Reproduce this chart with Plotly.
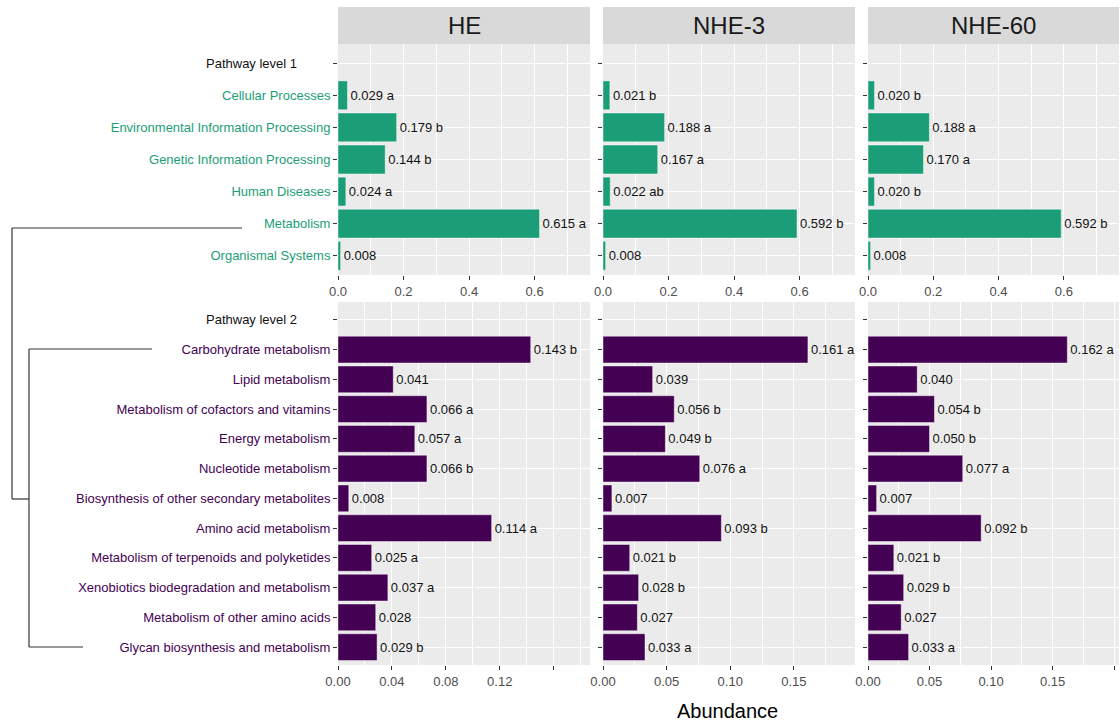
import plotly.graph_objects as go

# ---------------- data ----------------
groups = ["HE", "NHE-3", "NHE-60"]

level1_header = "Pathway level 1"
level1 = ["Cellular Processes", "Environmental Information Processing",
          "Genetic Information Processing", "Human Diseases",
          "Metabolism", "Organismal Systems"]
he_l1 = [0.029, 0.179, 0.144, 0.024, 0.615, 0.008]
nhe3_l1 = [0.021, 0.188, 0.167, 0.022, 0.592, 0.008]
nhe60_l1 = [0.020, 0.188, 0.170, 0.020, 0.592, 0.008]
he_l1_sig = ["a", "b", "b", "a", "a", ""]
nhe3_l1_sig = ["b", "a", "a", "ab", "b", ""]
nhe60_l1_sig = ["b", "a", "a", "b", "b", ""]

level2_header = "Pathway level 2"
level2 = ["Carbohydrate metabolism", "Lipid metabolism",
          "Metabolism of cofactors and vitamins", "Energy metabolism",
          "Nucleotide metabolism", "Biosynthesis of other secondary metabolites",
          "Amino acid metabolism", "Metabolism of terpenoids and polyketides",
          "Xenobiotics biodegradation and metabolism",
          "Metabolism of other amino acids", "Glycan biosynthesis and metabolism"]
he_l2 = [0.143, 0.041, 0.066, 0.057, 0.066, 0.008, 0.114, 0.025, 0.037, 0.028, 0.029]
nhe3_l2 = [0.161, 0.039, 0.056, 0.049, 0.076, 0.007, 0.093, 0.021, 0.028, 0.027, 0.033]
nhe60_l2 = [0.162, 0.040, 0.054, 0.050, 0.077, 0.007, 0.092, 0.021, 0.029, 0.027, 0.033]
he_l2_sig = ["b", "", "a", "a", "b", "", "a", "a", "a", "", "b"]
nhe3_l2_sig = ["a", "", "b", "b", "a", "", "b", "b", "b", "", "a"]
nhe60_l2_sig = ["a", "", "b", "b", "a", "", "b", "b", "b", "", "a"]

top_ticks = [0.0, 0.2, 0.4, 0.6]
he_bottom_ticks = [0.00, 0.04, 0.08, 0.12]
nhe_bottom_ticks = [0.00, 0.05, 0.10, 0.15]

# ---------------- styling ----------------
W, H = 1120, 724
FONT = "Liberation Sans, Arial, sans-serif"
GREEN = "#1b9e77"
PURPLE = "#440154"
PANEL_BG = "#ebebeb"
STRIP_BG = "#d9d9d9"


def fx(x):
    return x / W


def fy(y):
    return 1 - y / H


col_px = [(338, 590), (603, 855), (868, 1119)]
row_px = [(44, 275), (302, 665)]

rows = [
    dict(header=level1_header, cats=level1, color=GREEN,
         vals=[he_l1, nhe3_l1, nhe60_l1],
         sig=[he_l1_sig, nhe3_l1_sig, nhe60_l1_sig],
         xmax=[0.769, 0.769, 0.769],
         ticks=[top_ticks] * 3, fmt=".1f"),
    dict(header=level2_header, cats=level2, color=PURPLE,
         vals=[he_l2, nhe3_l2, nhe60_l2],
         sig=[he_l2_sig, nhe3_l2_sig, nhe60_l2_sig],
         xmax=[0.187, 0.198, 0.204],
         ticks=[he_bottom_ticks, nhe_bottom_ticks, nhe_bottom_ticks], fmt=".2f"),
]

fig = go.Figure()
layout_axes = {}

for r, row in enumerate(rows):
    cats_all = [row["header"]] + row["cats"]
    n = len(cats_all)
    for c in range(3):
        idx = r * 3 + c + 1
        xa = "x" if idx == 1 else f"x{idx}"
        ya = "y" if idx == 1 else f"y{idx}"
        vals = row["vals"][c]
        labels = [f"{v:.3f} {s}".strip() for v, s in zip(vals, row["sig"][c])]
        fig.add_trace(go.Bar(
            x=vals, y=row["cats"], orientation="h", width=0.9,
            marker=dict(color=row["color"],
                        line=dict(color="rgba(255,255,255,0.55)", width=0.8)),
            text=labels, textposition="outside", constraintext="none",
            cliponaxis=False,
            textfont=dict(family=FONT, size=13, color="#111111"),
            xaxis=xa, yaxis=ya, showlegend=False,
        ))

        ticks = row["ticks"][c]
        step = ticks[1] - ticks[0]
        minor = []
        v = step / 2
        while v < row["xmax"][c]:
            minor.append(round(v, 4))
            v += step
        major = list(ticks)
        v = ticks[-1] + step
        while v < row["xmax"][c]:
            major.append(round(v, 4))
            v += step
        x0, x1 = col_px[c]
        y0, y1 = row_px[r]
        layout_axes["xaxis" if idx == 1 else f"xaxis{idx}"] = dict(
            domain=[fx(x0), fx(x1)], anchor=ya, range=[0, row["xmax"][c]],
            automargin=False,
            tickvals=major,
            ticktext=[format(t, row["fmt"]) if t in ticks else "" for t in major],
            showgrid=True, gridcolor="white", gridwidth=1.1, zeroline=False,
            ticks="outside", ticklen=4, tickcolor="#333333", tickwidth=1,
            tickfont=dict(family=FONT, size=13, color="#4d4d4d"),
            minor=dict(tickvals=minor, showgrid=True, gridcolor="white",
                       gridwidth=0.5, ticks=""),
            showline=False, fixedrange=True,
        )
        layout_axes["yaxis" if idx == 1 else f"yaxis{idx}"] = dict(
            domain=[fy(y1), fy(y0)], anchor=xa, type="category",
            automargin=False,
            categoryorder="array", categoryarray=cats_all,
            range=[n - 0.4, -0.6],
            tickvals=cats_all, ticktext=[""] + row["cats"],
            showticklabels=(c == 0),
            tickfont=dict(family=FONT, size=13, color=row["color"]),
            ticks="outside", ticklen=4, tickcolor="#333333", tickwidth=1,
            showgrid=True, gridcolor="white", gridwidth=1.1,
            zeroline=False, showline=False, fixedrange=True,
        )

shapes = []
annotations = []

# facet strips
for c, g in enumerate(groups):
    x0, x1 = col_px[c]
    shapes.append(dict(type="rect", xref="paper", yref="paper",
                       x0=fx(x0), x1=fx(x1), y0=fy(44), y1=fy(7),
                       fillcolor=STRIP_BG, line=dict(width=0), layer="below"))
    annotations.append(dict(text=g, xref="paper", yref="paper",
                            x=fx((x0 + x1) / 2), y=fy(26), showarrow=False,
                            xanchor="center", yanchor="middle",
                            font=dict(family=FONT, size=24, color="#1a1a1a")))

# section headers on the category axis
for r, row in enumerate(rows):
    ya = "y" if r == 0 else "y4"
    annotations.append(dict(text=row["header"], xref="paper", yref=ya,
                            x=fx(299), y=row["header"], showarrow=False,
                            xanchor="right", yanchor="middle",
                            font=dict(family=FONT, size=13, color="#111111")))

# cluster tree linking the pathway levels
tree = [
    (12, 228, 242, 228),
    (12, 228, 12, 499),
    (12, 499, 29, 499),
    (29, 349, 29, 647),
    (29, 349, 152, 349),
    (29, 647, 83, 647),
]
for xa0, ya0, xa1, ya1 in tree:
    shapes.append(dict(type="line", xref="paper", yref="paper",
                       x0=fx(xa0), y0=fy(ya0), x1=fx(xa1), y1=fy(ya1),
                       line=dict(color="#333333", width=1.2)))

annotations.append(dict(text="Abundance", xref="paper", yref="paper",
                        x=fx(727), y=fy(711), showarrow=False,
                        xanchor="center", yanchor="middle",
                        font=dict(family=FONT, size=20, color="#000000")))

fig.update_layout(
    width=W, height=H, autosize=False,
    margin=dict(l=0, r=0, t=0, b=0),
    paper_bgcolor="white", plot_bgcolor=PANEL_BG,
    bargap=0.1, shapes=shapes, annotations=annotations,
    font=dict(family=FONT),
    **layout_axes,
)

fig.write_html("out.html")
